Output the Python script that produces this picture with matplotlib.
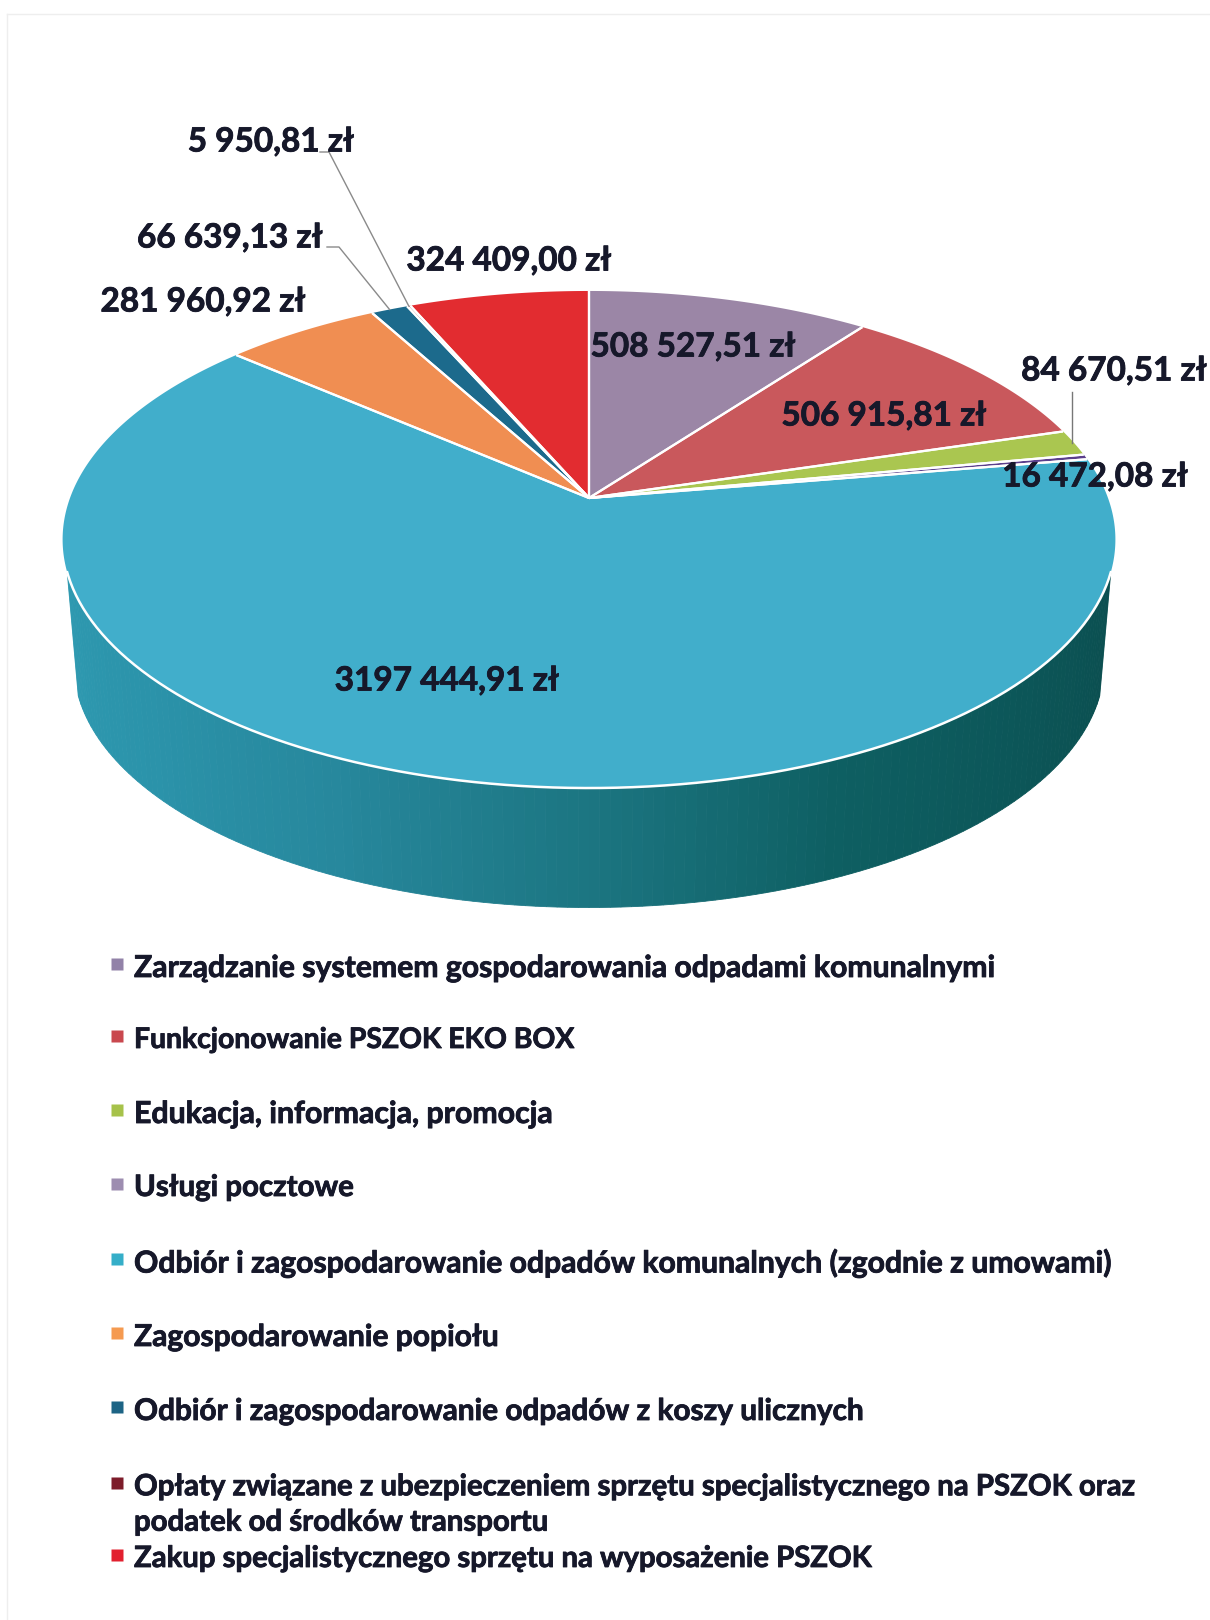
#Recreate the cost breakdown 3D pie (values in zl) with a perspective ellipse
import numpy as np
import matplotlib
matplotlib.use('Agg')
import matplotlib.pyplot as plt
import matplotlib.patheffects as pe
from matplotlib.colors import LinearSegmentedColormap

plt.rcParams['font.family'] = ['Lato', 'DejaVu Sans']

categories = ['Zarządzanie systemem gospodarowania odpadami komunalnymi',
              'Funkcjonowanie PSZOK EKO BOX',
              'Edukacja, informacja, promocja',
              'Usługi pocztowe',
              'Odbiór i zagospodarowanie odpadów komunalnych (zgodnie z umowami)',
              'Zagospodarowanie popiołu',
              'Odbiór i zagospodarowanie odpadów z koszy ulicznych',
              'Opłaty związane z ubezpieczeniem sprzętu specjalistycznego na PSZOK oraz\npodatek od środków transportu',
              'Zakup specjalistycznego sprzętu na wyposażenie PSZOK']
values = [508527.51, 506915.81, 84670.51, 16472.08, 3197444.91, 281960.92, 66639.13, 5950.81, 324409.00]
value_labels = ['508 527,51 zł', '506 915,81 zł', '84 670,51 zł', '16 472,08 zł', '3197 444,91 zł',
                '281 960,92 zł', '66 639,13 zł', '5 950,81 zł', '324 409,00 zł']
slice_colours = ['#9b86a6', '#c9585c', '#aac650', '#5b3f8c', '#41aecb', '#f08e52', '#1c6a8c', '#8a2030', '#e22c30']
legend_colours = ['#9282a8', '#c9484e', '#a6c24a', '#9d8db0', '#35aec8', '#f59a50', '#1d6485', '#7d1c2a', '#e2202f']

label_xy = [(693, 347), (884, 416), (1114, 371), (1095, 477), (447, 681),
            (203, 302), (230, 238), (271, 142), (509, 261)]
legend_y = [968, 1040, 1114, 1188, 1263, 1337, 1411, 1505, 1559]
# the caps in this font run wide, so lines with PSZOK get a smaller size
legend_sizes = [21.7, 20.4, 21.8, 21.2, 21.7, 21.6, 21.45, 21.15, 21.1]
text_colour = '#16182a'

# projection of the pie plane, all in figure pixels
cx, cy = 589, 498
A, B, k = 519.0, 241.6, 0.167

def project(theta, cx=cx, cy=cy, A=A, B=B):
    #theta in radians, clockwise from 12 o'clock
    u, v = np.sin(theta), np.cos(theta)
    w = 1 + k*v
    return cx + A*u/w, cy - B*v/w

fig = plt.figure(figsize=(12.1, 16.2), dpi=100)
ax = fig.add_axes([0, 0, 1, 1])
ax.set_xlim(0, 1210)
ax.set_ylim(1620, 0)
ax.axis('off')

# faint scan edge
ax.plot([7, 7], [14, 1620], color='#eeeeee', lw=1)
ax.plot([7, 1210], [14, 14], color='#eeeeee', lw=1)

# side wall, thin bands so the shade can run round it
wall_cmap = LinearSegmentedColormap.from_list('wall', ['#0b4f50', '#0c5658', '#0e5f62', '#1c7682',
                                                       '#27889d', '#2b93aa', '#2e99b0'])
bottom = dict(cx=589, cy=623, A=508, B=237)
t = np.radians(np.linspace(107, 253, 147))
for i in range(len(t)-1):
    x1, y1 = project(t[i:i+2])
    x2, y2 = project(t[i:i+2], **bottom)
    ax.fill(np.r_[x1, x2[::-1]], np.r_[y1, y2[::-1]], color=wall_cmap((t[i]-t[0])/(t[-1]-t[0])), lw=0.6)

# top face
total = sum(values)
edges = np.radians(np.r_[0, np.cumsum(values)]/total*360)
for i in range(len(values)):
    th = np.linspace(edges[i], edges[i+1], max(int(np.degrees(edges[i+1]-edges[i])*2), 2))
    x, y = project(th)
    ax.fill(np.r_[cx, x], np.r_[cy, y], facecolor=slice_colours[i], edgecolor='none')
    ax.plot([cx, x[0]], [cy, y[0]], color='white', lw=1.6, solid_capstyle='butt')
    ax.plot([cx, x[-1]], [cy, y[-1]], color='white', lw=1.6, solid_capstyle='butt')
th = np.radians(np.linspace(107, 253, 200))
ax.plot(*project(th), color='white', lw=1.8)

# leader lines to the small slices
mids = (edges[:-1] + edges[1:])/2
xm, ym = project(mids[2])
ax.plot([xm-2, xm-2], [ym, 392], color='#777777', lw=1)
xm, ym = project(mids[6])
ax.plot([xm, 339, 327], [ym, 247, 247], color='#8a8a8a', lw=1)
xm, ym = project(mids[7])
ax.plot([xm, 329, 320], [ym, 152, 152], color='#8a8a8a', lw=1)

thick = [pe.withStroke(linewidth=0.6, foreground=text_colour)]
for (lx, ly), lab in zip(label_xy, value_labels):
    ax.text(lx, ly, lab, ha='center', va='center', fontsize=24, fontweight='bold', color=text_colour,
            path_effects=thick)

# legend
for y, name, col, size in zip(legend_y, categories, legend_colours, legend_sizes):
    marker_y = y - 22 if '\n' in name else y - 4
    ax.plot([117], [marker_y], marker='s', ms=9, color=col, mec='none', ls='none')
    ax.text(134, y, name, ha='left', va='center', fontsize=size, fontweight='bold',
            color=text_colour, linespacing=1.45, path_effects=thick)

fig.savefig('out.png', dpi=100)
